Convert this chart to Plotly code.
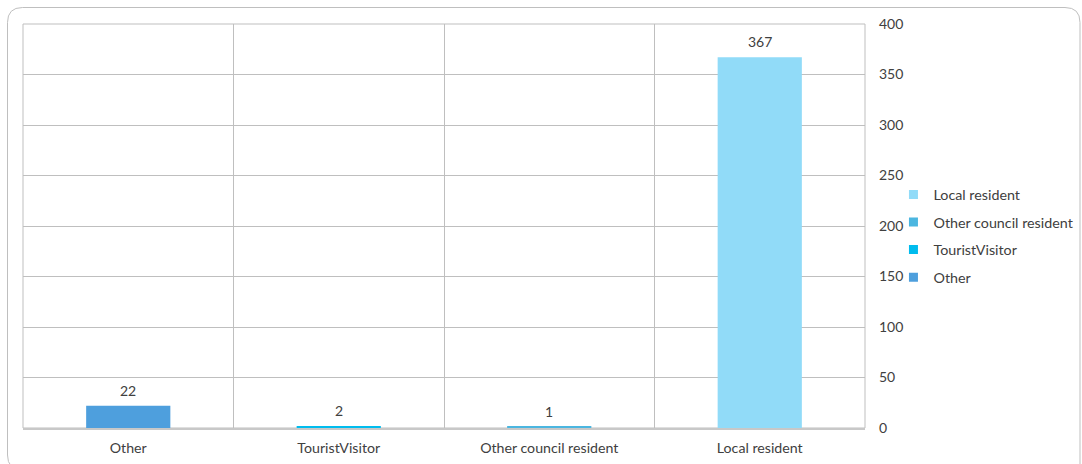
import plotly.graph_objects as go

categories = ["Other", "TouristVisitor", "Other council resident", "Local resident"]
values = [22, 2, 1, 367]
colors = ["#4E9FDD", "#00BCEE", "#4BB6E0", "#91DBF8"]
y_ticks = [0, 50, 100, 150, 200, 250, 300, 350, 400]

FONT = "Lato"
TXT = "#404040"

fig = go.Figure()
for cat, val, col in zip(categories, values, colors):
    fig.add_trace(go.Bar(
        x=[cat], y=[val], name=cat, width=0.4,
        marker=dict(color=col, line=dict(width=0)),
        showlegend=False,
    ))
    fig.add_annotation(
        x=cat, y=val, text=str(val), showarrow=False,
        yanchor="bottom", yshift=5,
        font=dict(family=FONT, size=14, color=TXT),
    )
# legend entries (small square markers), listed last category first
for cat, col in reversed(list(zip(categories, colors))):
    fig.add_trace(go.Scatter(
        x=[None], y=[None], mode="markers", name=cat, legendgroup=cat,
        marker=dict(symbol="square", size=9, color=col),
    ))

pw, ph = 1082 - 23 - 217, 464 - 24 - 36

fig.update_layout(
    width=1082, height=464,
    margin=dict(l=23, r=217, t=24, b=36, autoexpand=False),
    paper_bgcolor="white", plot_bgcolor="white",
    barmode="overlay",
    font=dict(family=FONT, size=13, color=TXT),
    showlegend=True,
    legend=dict(
        x=1.0338, y=0.475, xanchor="left", yanchor="middle",
        traceorder="grouped", font=dict(family=FONT, size=14.3, color=TXT),
        tracegroupgap=6, itemwidth=30, bgcolor="rgba(0,0,0,0)",
    ),
    xaxis=dict(
        categoryorder="array", categoryarray=categories,
        tickson="boundaries", showgrid=True, gridcolor="#BFBFBF", gridwidth=1,
        showline=True, linecolor="#C8C8C8", linewidth=1.5,
        ticks="", ticklabelstandoff=6, automargin=False,
        tickfont=dict(family=FONT, size=14.2, color=TXT),
        range=[-0.5, 3.5], fixedrange=True,
    ),
    yaxis=dict(
        side="right", range=[0, 400], tickvals=y_ticks,
        showgrid=True, gridcolor="#BFBFBF", gridwidth=1,
        zeroline=False, showline=False, ticks="", automargin=False,
        ticklabelstandoff=13,
        tickfont=dict(family=FONT, size=14, color=TXT),
        fixedrange=True,
    ),
)

def px(x): return (x - 23) / pw
def py(y): return 1 - (y - 24) / ph

# plot-area frame
fig.add_shape(type="rect", xref="paper", yref="paper", x0=0, y0=0, x1=1, y1=1,
              line=dict(color="#BFBFBF", width=1), layer="below")

# outer rounded border of the chart area
r = 15
x0, y0, x1, y1 = 7.5, 7.5, 1080, 470
path = (f"M {px(x0)},{py(y0 + r)} Q {px(x0)},{py(y0)} {px(x0 + r)},{py(y0)} "
        f"L {px(x1 - r)},{py(y0)} Q {px(x1)},{py(y0)} {px(x1)},{py(y0 + r)} "
        f"L {px(x1)},{py(y1)} L {px(x0 + r)},{py(y1)} "
        f"Q {px(x0)},{py(y1)} {px(x0)},{py(y1 - r)} Z")
fig.add_shape(type="path", xref="paper", yref="paper", layer="below", path=path,
              line=dict(color="#BFBFBF", width=1), fillcolor="rgba(0,0,0,0)")

fig.write_html("out.html")
